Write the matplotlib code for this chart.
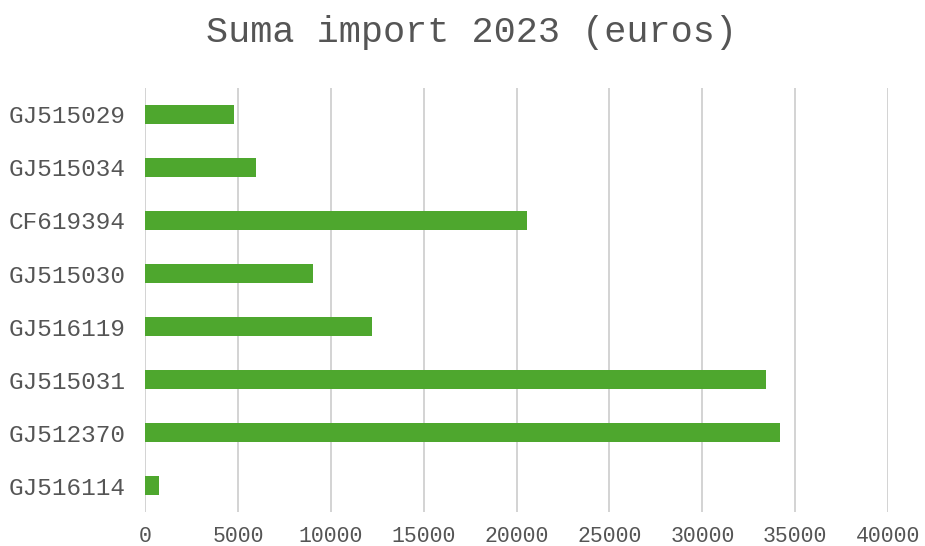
import matplotlib.pyplot as plt
import numpy as np

# categories top to bottom as shown in the chart
codes = ["GJ515029", "GJ515034", "CF619394", "GJ515030",
         "GJ516119", "GJ515031", "GJ512370", "GJ516114"]
imports = [4790, 5980, 20550, 9020, 12200, 33440, 34160, 740]
xticks = [0, 5000, 10000, 15000, 20000, 25000, 30000, 35000, 40000]

plt.rcParams['font.family'] = ['Liberation Mono', 'DejaVu Sans Mono']

fig = plt.figure(figsize=(9.25, 5.46), dpi=100)
ax = fig.add_axes([0.157, 0.062, 0.803, 0.777])

y = np.arange(len(codes))
ax.barh(y, imports, height=0.36, color="#4ea72e", zorder=3)

ax.set_ylim(len(codes) - 0.5, -0.5)
ax.set_xlim(0, 40000)
ax.set_yticks(y)
ax.set_yticklabels(codes)
ax.set_xticks(xticks)
ax.set_xticklabels([str(t) for t in xticks])

ax.grid(axis="x", color="#cccccc", linewidth=1.2, zorder=0)
for s in ax.spines.values():
    s.set_visible(False)
ax.tick_params(length=0, colors="#555555")
ax.tick_params(axis="y", labelsize=17.6, pad=14)
ax.tick_params(axis="x", labelsize=15.5, pad=10)

fig.text(0.51, 0.94, "Suma import 2023 (euros)", ha="center", va="center",
         fontsize=26.6, color="#555555")

fig.savefig("out.png", dpi=100, facecolor="white")
